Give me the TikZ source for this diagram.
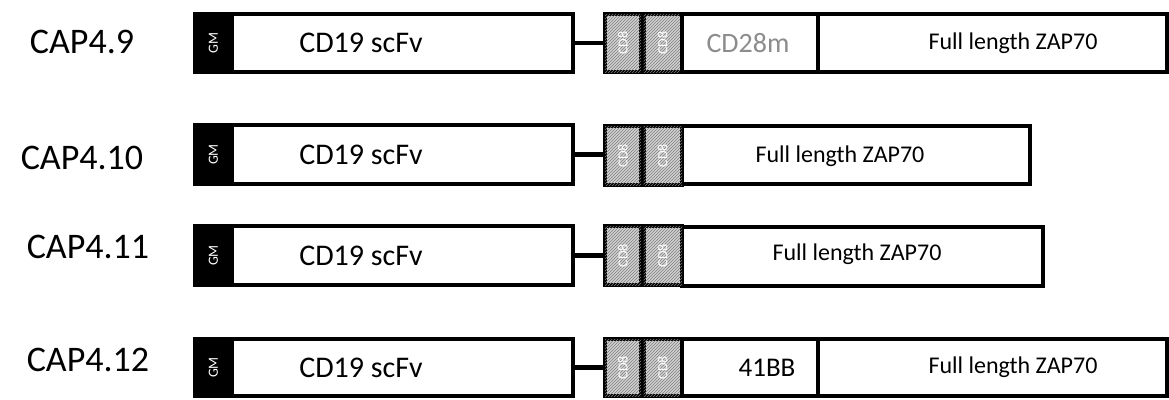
\documentclass[tikz,border=0pt]{standalone}
\usepackage{fontspec}
\setmainfont{Carlito}
\usetikzlibrary{patterns}
\begin{document}
\begin{tikzpicture}[x=1pt,y=-1pt,
  box/.style={draw=black,line width=4pt,fill=white,inner sep=0pt},
  gmbox/.style={draw=black,line width=4pt,fill=black,inner sep=0pt},
  hatchbox/.style={draw=black,line width=4pt,fill=black!18,postaction={pattern=north east lines,pattern color=black!50},inner sep=0pt},
  link/.style={line width=4.5pt},
  lab/.style={font=\fontsize{36}{40}\selectfont,anchor=center},
  scf/.style={font=\fontsize{30}{33}\selectfont},
  zap/.style={font=\fontsize{24}{28}\selectfont},
  gmt/.style={font=\fontsize{14}{15}\selectfont,text=white,rotate=90},
  cdt/.style={font=\fontsize{14}{15}\selectfont,text=white,rotate=90},
]
\useasboundingbox (0,0) rectangle (1169,399);
% ---------- Row 1 ----------
\node[lab] (l1) at (82,42) {CAP4.9};
\node[gmbox,minimum width=37pt,minimum height=58pt] (gm1) at (213.5,43) {};
\node[gmt] (gmt1) at (gm1) {GM};
\node[box,minimum width=341pt,minimum height=58pt] (sc1) at (402.5,43) {};
\node[scf] (sct1) at (361,43) {CD19 scFv};
\node[hatchbox,minimum width=36pt,minimum height=58pt] (ha1) at (623,43) {};
\node[hatchbox,minimum width=38.5pt,minimum height=58pt] (hb1) at (662.75,43) {};
\node[cdt] (hat1) at (ha1) {CD8};
\node[cdt] (hbt1) at (hb1) {CD8};
\node[box,minimum width=136pt,minimum height=58pt] (cd1) at (750,43) {};
\node[font=\fontsize{28}{30}\selectfont,text=black!45] (cdt1) at (748,43) {CD28m};
\node[box,minimum width=349pt,minimum height=58pt] (z1) at (992.5,43) {};
\node[zap] (zt1) at (1013,43) {Full length ZAP70};
\draw[link] (sc1.east) -- (ha1.west);
% ---------- Row 2 ----------
\node[lab] (l2) at (82,158) {CAP4.10};
\node[gmbox,minimum width=37pt,minimum height=59pt] (gm2) at (213.5,154.5) {};
\node[gmt] (gmt2) at (gm2) {GM};
\node[box,minimum width=341pt,minimum height=59pt] (sc2) at (402.5,154.5) {};
\node[scf] (sct2) at (361,154.5) {CD19 scFv};
\node[box,minimum width=348pt,minimum height=58pt] (z2) at (856,154.5) {};
\node[hatchbox,minimum width=36pt,minimum height=59pt] (ha2) at (623,155.5) {};
\node[hatchbox,minimum width=38.5pt,minimum height=59pt] (hb2) at (662.75,155.5) {};
\node[cdt] (hat2) at (ha2) {CD8};
\node[cdt] (hbt2) at (hb2) {CD8};
\node[zap] (zt2) at (840,156) {Full length ZAP70};
\draw[link] (sc2.east) -- (ha2.west |- sc2.east);
% ---------- Row 3 ----------
\node[lab] (l3) at (88,247) {CAP4.11};
\node[gmbox,minimum width=37pt,minimum height=59pt] (gm3) at (213.5,255.5) {};
\node[gmt] (gmt3) at (gm3) {GM};
\node[box,minimum width=341pt,minimum height=59pt] (sc3) at (402.5,255.5) {};
\node[scf] (sct3) at (361,255.5) {CD19 scFv};
\node[box,minimum width=361pt,minimum height=59pt] (z3) at (862.5,256) {};
\node[hatchbox,minimum width=36pt,minimum height=59pt] (ha3) at (623,255.5) {};
\node[hatchbox,minimum width=38.5pt,minimum height=59pt] (hb3) at (662.75,255.5) {};
\node[cdt] (hat3) at (ha3) {CD8};
\node[cdt] (hbt3) at (hb3) {CD8};
\node[zap] (zt3) at (857,254) {Full length ZAP70};
\draw[link] (sc3.east) -- (ha3.west);
% ---------- Row 4 ----------
\node[lab] (l4) at (88,360) {CAP4.12};
\node[gmbox,minimum width=37pt,minimum height=57pt] (gm4) at (213.5,367.5) {};
\node[gmt] (gmt4) at (gm4) {GM};
\node[box,minimum width=341pt,minimum height=57pt] (sc4) at (402.5,367.5) {};
\node[scf] (sct4) at (361,367.5) {CD19 scFv};
\node[hatchbox,minimum width=36pt,minimum height=57pt] (ha4) at (623,367.5) {};
\node[hatchbox,minimum width=38.5pt,minimum height=57pt] (hb4) at (662.75,367.5) {};
\node[cdt] (hat4) at (ha4) {CD8};
\node[cdt] (hbt4) at (hb4) {CD8};
\node[box,minimum width=136pt,minimum height=57pt] (bb4) at (750,367.5) {};
\node[font=\fontsize{27}{30}\selectfont] (bbt4) at (767,367.5) {41BB};
\node[box,minimum width=349pt,minimum height=57pt] (z4) at (992.5,367.5) {};
\node[zap] (zt4) at (1013,367.5) {Full length ZAP70};
\draw[link] (sc4.east) -- (ha4.west);
\end{tikzpicture}
\end{document}
